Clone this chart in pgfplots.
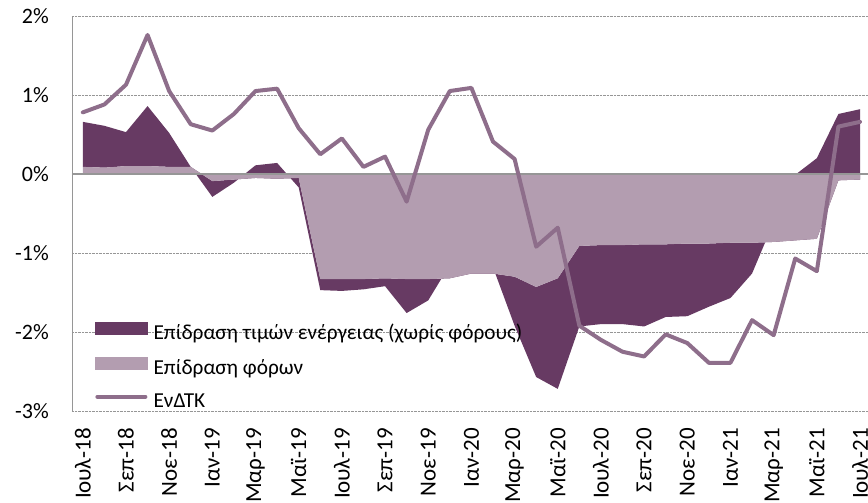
\documentclass[border=0pt]{standalone}
\usepackage{fontspec}
\setmainfont{Carlito}
\usepackage{pgfplots}
\usepackage{pgfplotstable}
\pgfplotsset{compat=1.18}
\usepgfplotslibrary{fillbetween}
\definecolor{darkp}{RGB}{103,58,99}
\definecolor{lightp}{RGB}{179,157,176}
\definecolor{cpic}{RGB}{142,110,139}
\definecolor{axgray}{RGB}{150,150,150}

\pgfplotstableread{
x tax tot cpi
0 0.09 0.66 0.78
1 0.08 0.61 0.88
2 0.10 0.53 1.13
3 0.10 0.86 1.76
4 0.09 0.52 1.05
5 0.09 0.09 0.63
6 -0.09 -0.29 0.55
7 -0.07 -0.11 0.76
8 -0.05 0.11 1.05
9 -0.06 0.14 1.08
10 -0.05 -0.17 0.58
11 -1.33 -1.47 0.25
12 -1.33 -1.48 0.45
13 -1.33 -1.46 0.09
14 -1.32 -1.42 0.22
15 -1.33 -1.76 -0.35
16 -1.33 -1.60 0.56
17 -1.32 -1.15 1.05
18 -1.26 -0.93 1.09
19 -1.26 -1.18 0.41
20 -1.30 -1.92 0.19
21 -1.43 -2.57 -0.92
22 -1.32 -2.72 -0.68
23 -0.91 -1.93 -1.92
24 -0.90 -1.90 -2.10
25 -0.90 -1.90 -2.25
26 -0.89 -1.93 -2.31
27 -0.89 -1.81 -2.03
28 -0.88 -1.80 -2.14
29 -0.88 -1.68 -2.39
30 -0.87 -1.57 -2.39
31 -0.87 -1.26 -1.85
32 -0.86 -0.61 -2.04
33 -0.84 -0.01 -1.07
34 -0.82 0.20 -1.23
35 -0.08 0.76 0.60
36 -0.07 0.82 0.66
}\data

\begin{document}
\begin{tikzpicture}
\begin{axis}[
  scale only axis, width=798.8pt, height=395pt,
  xmin=-0.5, xmax=36.5, ymin=-3, ymax=2,
  axis lines*=left,
  axis line style={-},
  x axis line style={draw=none},
  y axis line style={draw=axgray, line width=0.8pt},
  major tick length=0pt,
  ytick={-3,-2,-1,0,1,2},
  yticklabels={-3\%,-2\%,-1\%,0\%,1\%,2\%},
  ymajorgrids,
  grid style={densely dotted, draw=axgray, line width=0.7pt},
  xtick={0,2,...,36},
  xticklabels={Ιουλ-18,Σεπ-18,Νοε-18,Ιαν-19,Μαρ-19,Μαϊ-19,Ιουλ-19,Σεπ-19,Νοε-19,Ιαν-20,Μαρ-20,Μαϊ-20,Ιουλ-20,Σεπ-20,Νοε-20,Ιαν-21,Μαρ-21,Μαϊ-21,Ιουλ-21},
  x tick label style={yshift=-17pt, rotate=90, anchor=east, inner sep=0pt, font=\fontsize{23}{25}\selectfont},
  y tick label style={anchor=east, inner sep=0pt, xshift=-23pt, font=\fontsize{22}{24}\selectfont},
  legend style={draw=none, fill=none, at={(axis description cs:0.0288,0.2253)}, anchor=north west,
    inner sep=0pt, font=\fontsize{21.3}{23}\selectfont, row sep=13pt,
    nodes={inner sep=0pt, text height=15pt, text depth=5pt},
    /tikz/every odd column/.style={column sep=6pt}},
  legend cell align=left,
]
\addplot[draw=none, fill=lightp, forget plot] table[x=x,y=tax]{\data} \closedcycle;
\addplot[draw=none, name path=T, forget plot] table[x=x,y=tax]{\data};
\addplot[draw=none, name path=S, forget plot] table[x=x,y=tot]{\data};
\addplot[fill=darkp, draw=none, forget plot] fill between[of=S and T];
\addplot[axgray, line width=1.3pt, forget plot] coordinates {(-0.5,0) (36.5,0)};
\addplot[cpic, line width=4pt, line join=round, line cap=round, forget plot] table[x=x,y=cpi]{\data};

\addlegendimage{legend image code/.code={\fill[darkp] (0pt,0pt) rectangle (52pt,12pt);}}
\addlegendentry{Επίδραση τιμών ενέργειας (χωρίς φόρους)}
\addlegendimage{legend image code/.code={\fill[lightp] (0pt,0pt) rectangle (52pt,12pt);}}
\addlegendentry{Επίδραση φόρων}
\addlegendimage{legend image code/.code={\draw[cpic, line width=4pt, line cap=round] (2pt,6pt) -- (50pt,6pt);}}
\addlegendentry{ΕνΔΤΚ}
\end{axis}
\pgfresetboundingbox
\useasboundingbox (-72pt,-92pt) rectangle (796pt,411pt);
\end{tikzpicture}
\end{document}
